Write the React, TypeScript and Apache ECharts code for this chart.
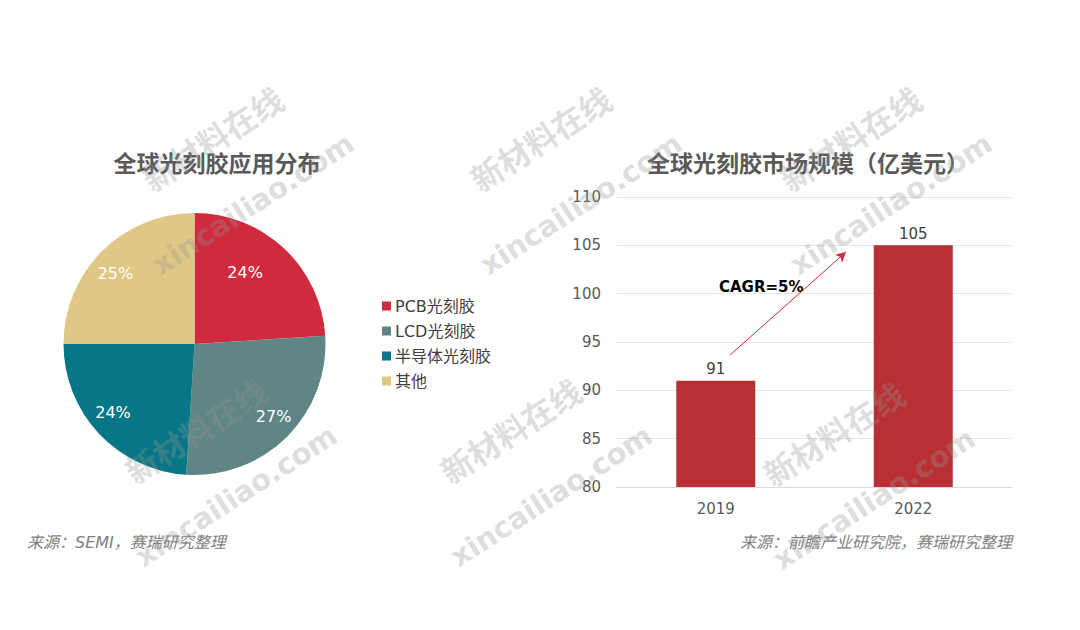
import React, { useEffect, useRef } from "react";
import * as echarts from "echarts";

const pieNames = ["PCB光刻胶", "LCD光刻胶", "半导体光刻胶", "其他"];
const pieValues = [24, 27, 24, 25];
const pieColors = ["#d02a3f", "#5f8585", "#077686", "#dfc785"];

const years = ["2019", "2022"];
const marketValues = [91, 105];

const leftTitle = "全球光刻胶应用分布";
const rightTitle = "全球光刻胶市场规模（亿美元）";
const leftSource = "来源：SEMI，赛瑞研究整理";
const rightSource = "来源：前瞻产业研究院，赛瑞研究整理";
const cagrText = "CAGR=5%";

const FONT = "'DejaVu Sans', 'Noto Sans CJK SC', sans-serif";

// small nudges of the pie's percentage labels (styling only)
const pieLabelNudge = [
  [-24, 8],
  [2, -5],
  [-2, -6],
  [-2, 7],
];

const watermarkSpots = [
  [212, 138],
  [540, 138],
  [850, 138],
  [195, 430],
  [510, 430],
  [833, 433],
];

export default function App() {
  const ref = useRef<HTMLDivElement>(null);
  useEffect(() => {
    document.body.style.margin = "0";
    if (!ref.current) return;
    const chart = echarts.init(ref.current, undefined, { renderer: "svg" });
    const wmColor = "rgba(150,150,150,0.32)";
    const rot = (33 * Math.PI) / 180;
    const watermarks: any[] = [];
    watermarkSpots.forEach(([x, y]) => {
      watermarks.push({
        type: "text",
        x,
        y,
        rotation: rot,
        z: 100,
        silent: true,
        style: {
          text: "新材料在线",
          fill: wmColor,
          font: `bold 32px 'Noto Sans CJK SC', sans-serif`,
          align: "center",
          verticalAlign: "middle",
        },
      });
      watermarks.push({
        type: "text",
        x: x + 41,
        y: y + 66,
        rotation: rot,
        z: 100,
        silent: true,
        style: {
          text: "xincailiao.com",
          fill: wmColor,
          font: `bold 29px 'DejaVu Sans', sans-serif`,
          align: "center",
          verticalAlign: "middle",
        },
      });
    });

    const option: any = {
      animation: false,
      backgroundColor: "#ffffff",
      title: [
        {
          text: leftTitle,
          left: 212,
          top: 147,
          textAlign: "center",
          textStyle: { fontSize: 23, fontWeight: "bold", color: "#595959", fontFamily: FONT },
        },
        {
          text: rightTitle,
          left: 803,
          top: 147,
          textAlign: "center",
          textStyle: { fontSize: 23, fontWeight: "bold", color: "#595959", fontFamily: FONT },
        },
      ],
      legend: {
        orient: "vertical",
        left: 377,
        top: 293,
        itemWidth: 9,
        itemHeight: 9,
        itemGap: 9,
        icon: "rect",
        data: pieNames,
        textStyle: { fontSize: 16, color: "#404040", fontFamily: FONT, lineHeight: 16, padding: [0, 0, 0, -1] },
      },
      grid: { left: 617, right: 68, top: 197, bottom: 143 },
      xAxis: {
        type: "category",
        data: years,
        axisLine: { lineStyle: { color: "#d9d9d9" } },
        axisTick: { show: false },
        axisLabel: { fontSize: 15, color: "#595959", fontFamily: FONT, margin: 14 },
      },
      yAxis: {
        type: "value",
        min: 80,
        max: 110,
        interval: 5,
        axisLine: { show: false },
        axisTick: { show: false },
        splitLine: { lineStyle: { color: "#e6e6e6" } },
        axisLabel: { fontSize: 15, color: "#595959", fontFamily: FONT, margin: 16 },
      },
      series: [
        {
          type: "pie",
          center: [194.5, 344],
          radius: [0, 131],
          startAngle: 90,
          clockwise: true,
          label: { show: false },
          labelLine: { show: false },
          emphasis: { disabled: true },
          data: pieNames.map((n, i) => ({ name: n, value: pieValues[i], itemStyle: { color: pieColors[i] } })),
        },
        {
          type: "pie",
          center: [194.5, 344],
          radius: [81, 131],
          startAngle: 90,
          clockwise: true,
          silent: true,
          itemStyle: { color: "rgba(0,0,0,0)" },
          label: {
            show: true,
            position: "inside",
            formatter: "{c}%",
            color: "#ffffff",
            fontSize: 16,
            fontFamily: FONT,
          },
          labelLayout: (p: any) => ({ dx: pieLabelNudge[p.dataIndex][0], dy: pieLabelNudge[p.dataIndex][1] }),
          labelLine: { show: false },
          data: pieNames.map((n, i) => ({ name: n, value: pieValues[i], itemStyle: { color: "rgba(0,0,0,0)" } })),
        },
        {
          type: "bar",
          data: marketValues,
          barWidth: 79,
          itemStyle: { color: "#b83033" },
          label: {
            show: true,
            position: "top",
            distance: 4,
            color: "#404040",
            fontSize: 15,
            fontFamily: FONT,
          },
          markLine: {
            silent: true,
            symbol: ["none", "arrow"],
            symbolSize: [8, 10],
            lineStyle: { color: "#d0283e", width: 1, type: "solid" },
            label: { show: false },
            data: [[{ x: 730, y: 355 }, { x: 846, y: 252 }]],
          },
        },
      ],
      graphic: [
        {
          type: "text",
          left: 719,
          top: 279,
          style: {
            text: cagrText,
            font: `bold 15px 'DejaVu Sans', sans-serif`,
            fill: "#000000",
          },
        },
        {
          type: "text",
          left: 27,
          top: 534,
          style: {
            text: leftSource,
            font: `italic 16px 'DejaVu Sans', 'Noto Sans CJK SC', sans-serif`,
            fill: "#7f7f7f",
          },
        },
        {
          type: "text",
          right: 68,
          top: 534,
          style: {
            text: rightSource,
            font: `italic 16px 'DejaVu Sans', 'Noto Sans CJK SC', sans-serif`,
            fill: "#7f7f7f",
          },
        },
        ...watermarks,
      ],
    };
    chart.setOption(option);
    return () => chart.dispose();
  }, []);
  return <div ref={ref} style={{ width: 1080, height: 630 }} />;
}
